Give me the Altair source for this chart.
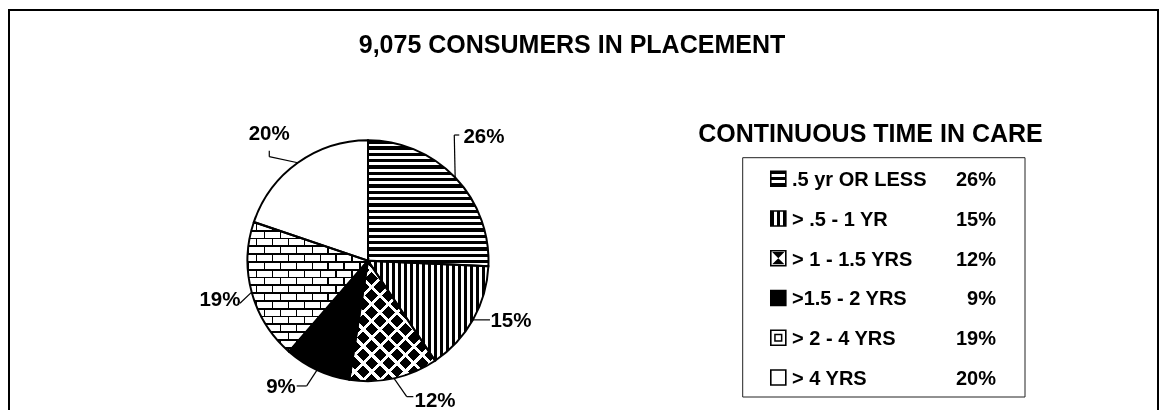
import math
import numpy as np
import pandas as pd
import altair as alt

# ---------------- data ----------------
TITLE = "9,075 CONSUMERS IN PLACEMENT"
LEGEND_TITLE = "CONTINUOUS TIME IN CARE"
categories = [".5 yr OR LESS", "> .5 - 1 YR", "> 1 - 1.5 YRS", ">1.5 - 2 YRS", "> 2 - 4 YRS", "> 4 YRS"]
percent = [26, 15, 12, 9, 19, 20]
pct_labels = ["26%", "15%", "12%", "9%", "19%", "20%"]

# ---------------- layout / style (chart pixels) ----------------
FONT = "Liberation Sans, Arial, sans-serif"
W, H = 1151, 402
CX, CY, R = 360.0, 252.7, 120.5

# leader elbows (relative to the slice's mid-angle point on the rim) and label anchor offsets
LEADER = [[(-0.9, -42.5), (4.1, -42.5)], [(17, 0)], [(12.7, 18.3), (19.3, 18.3)],
          [(-10.5, 16), (-20.5, 16)], [(-11.7, 11.1)], [(-28.5, -6.1), (-28.5, -12.1)]]
LABEL_OFF = [(28.8, -34.2), (38, 7.4), (41, 28.3), (-36.2, 23.3), (-31.7, 13.8), (-28.6, -22.8)]

total = float(sum(percent))
end = np.cumsum(percent).astype(float)
start = end - np.array(percent, dtype=float)
a0 = start / total * 360.0
a1 = end / total * 360.0
mid = (a0 + a1) / 2.0

pie_df = pd.DataFrame({"idx": range(len(categories)), "cat": categories, "value": percent,
                       "start": start, "end": end, "label": pct_labels})


def slice_bbox(s, e, r):
    pts = [(0.0, 0.0)]
    for a in [s, e] + [k * 90.0 for k in range(5) if s < k * 90.0 < e]:
        t = math.radians(a)
        pts.append((r * math.sin(t), -r * math.cos(t)))
    xs = [p[0] for p in pts]
    ys = [p[1] for p in pts]
    return max(xs) - min(xs), max(ys) - min(ys)


def band_stops(L, period, on, on_col, off_col, phase=0.0):
    stops = []
    x = (phase % period) - period
    while x < L:
        for s0, s1, col in ((x, x + on, on_col), (x + on, x + period, off_col)):
            a, b = max(0.0, s0), min(L, s1)
            if b > a:
                stops.append({"offset": round(a / L, 5), "color": col})
                stops.append({"offset": round(b / L, 5), "color": col})
        x += period
    return stops


def grad(kind, w, h, period, on, on_col, off_col, phase=0.0):
    if kind == "h":
        x1, y1, x2, y2, L = 0, 0, 0, 1, h
    elif kind == "v":
        x1, y1, x2, y2, L = 0, 0, 1, 0, w
    elif kind == "d1":
        c = (w + h) / (w * w + h * h)
        x1, y1, x2, y2, L = 0, 0, c * w, c * h, (w + h) / math.sqrt(2)
    else:
        c = (w + h) / (w * w + h * h)
        x1, y1, x2, y2, L = 0, 1, c * w, 1 - c * h, (w + h) / math.sqrt(2)
    return {"gradient": "linear", "x1": x1, "y1": y1, "x2": x2, "y2": y2,
            "stops": band_stops(L, period, on, on_col, off_col, phase)}


theta = alt.Theta("start:Q", stack=None, scale=alt.Scale(domain=[0, total], range=[0, 2 * math.pi]))
base = alt.Chart(pie_df)


def arc(i, fill, blend=None):
    kw = dict(radius=R, fill=fill, strokeWidth=0)
    if blend:
        kw["blend"] = blend
    return base.transform_filter(alt.datum.idx == i).mark_arc(**kw).encode(
        theta=theta, theta2="end:Q", x=alt.value(CX), y=alt.value(CY))


layers = []
# 0: horizontal lines
w, h = slice_bbox(a0[0], a1[0], R)
layers.append(arc(0, grad("h", w, h, 6.3, 3.3, "black", "white")))
# 1: vertical lines
w, h = slice_bbox(a0[1], a1[1], R)
layers.append(arc(1, grad("v", w, h, 6.0, 3.0, "black", "white")))
# 2: diamonds (intersection of two diagonal stripe sets)
w, h = slice_bbox(a0[2], a1[2], R)
P = 12.0
layers.append(arc(2, grad("d1", w, h, P, 0.72 * P, "black", "white")))
layers.append(arc(2, grad("d2", w, h, P, 0.72 * P, "black", "white"), blend="lighten"))
# 3: solid black
layers.append(arc(3, "black"))
# 4: bricks
w, h = slice_bbox(a0[4], a1[4], R)
RH, BL, MT = 7.8, 16.0, 1.8
layers.append(arc(4, grad("v", w, h, BL, BL / 2, "black", "white", phase=MT / 2 - BL / 4)))
layers.append(arc(4, grad("h", w, h, 2 * RH, RH, "white", "black"), blend="difference"))
layers.append(arc(4, grad("v", w, h, BL / 2, MT, "black", "white"), blend="lighten"))
layers.append(arc(4, grad("h", w, h, RH, MT, "black", "white"), blend="multiply"))
# 5: white
layers.append(arc(5, "white"))
# outlines
layers.append(base.mark_arc(radius=R, fill="transparent", stroke="black", strokeWidth=2).encode(
    theta=theta, theta2="end:Q", x=alt.value(CX), y=alt.value(CY)))

# leader lines and percentage labels
seg_rows, lab_rows = [], []
for i in range(len(categories)):
    t = math.radians(mid[i])
    ex, ey = CX + R * math.sin(t), CY - R * math.cos(t)
    pts = [(ex, ey)] + [(ex + dx, ey + dy) for dx, dy in LEADER[i]]
    for (xa, ya), (xb, yb) in zip(pts[:-1], pts[1:]):
        seg_rows.append({"x": xa, "y": ya, "x2": xb, "y2": yb})
    lab_rows.append({"lx": ex + LABEL_OFF[i][0], "ly": ey + LABEL_OFF[i][1], "label": pct_labels[i]})
seg_df = pd.DataFrame(seg_rows)
lab_df = pd.DataFrame(lab_rows)

layers.append(alt.Chart(seg_df).mark_rule(color="black", strokeWidth=1.2).encode(
    x=alt.X("x:Q", scale=None), y=alt.Y("y:Q", scale=None), x2="x2:Q", y2="y2:Q"))
layers.append(alt.Chart(lab_df).mark_text(font=FONT, fontSize=20.5, fontWeight="bold", align="center",
                                          baseline="alphabetic", color="black").encode(
    x=alt.X("lx:Q", scale=None), y=alt.Y("ly:Q", scale=None), text="label:N"))

# titles, frame, legend box
one = pd.DataFrame({"t": [TITLE], "lt": [LEGEND_TITLE]})
layers.append(alt.Chart(one).mark_rect(fill="transparent", stroke="black", strokeWidth=2).encode(
    x=alt.value(1), x2=alt.value(1150), y=alt.value(2), y2=alt.value(430)))
layers.append(alt.Chart(one).mark_text(font=FONT, fontSize=25, fontWeight="bold", baseline="alphabetic",
                                       align="center").encode(x=alt.value(564), y=alt.value(45), text="t:N"))
layers.append(alt.Chart(one).mark_text(font=FONT, fontSize=25, fontWeight="bold", baseline="alphabetic",
                                       align="center").encode(x=alt.value(862.5), y=alt.value(134), text="lt:N"))
layers.append(alt.Chart(one).mark_rect(fill="transparent", stroke="#222", strokeWidth=1).encode(
    x=alt.value(734.7), x2=alt.value(1017), y=alt.value(149.7), y2=alt.value(389)))

leg_y = alt.Y("cat:N", sort=categories, axis=None,
              scale=alt.Scale(domain=categories, range=[178.2, 377], padding=0))
leg = alt.Chart(pie_df)
layers.append(leg.mark_text(font=FONT, fontSize=20, fontWeight="bold", align="left",
                            baseline="alphabetic").encode(x=alt.value(784), y=leg_y, text="cat:N"))
layers.append(leg.mark_text(font=FONT, fontSize=20, fontWeight="bold", align="right",
                            baseline="alphabetic").encode(x=alt.value(988), y=leg_y, text="label:N"))

ICON_X, ICON_SIZE = 770.3, 225
icon_fills = [
    grad("h", 15, 15, 6, 3, "black", "white"),
    grad("v", 15, 15, 6, 3, "black", "white"),
    "white", "black", "white", "white",
]
for i, f in enumerate(icon_fills):
    layers.append(leg.transform_filter(alt.datum.idx == i).mark_point(
        shape="square", size=ICON_SIZE, filled=True, fill=f, stroke="black", strokeWidth=1.6,
        opacity=1, yOffset=-7.5).encode(x=alt.value(ICON_X), y=leg_y))
layers.append(leg.transform_filter(alt.datum.idx == 2).mark_point(
    shape="M-1,-1L1,-1L0,0L1,1L-1,1L0,0Z", size=150, filled=True, fill="black", strokeWidth=0,
    opacity=1, yOffset=-7.5).encode(x=alt.value(ICON_X), y=leg_y))
layers.append(leg.transform_filter(alt.datum.idx == 4).mark_point(
    shape="square", size=45, filled=True, fill="white", stroke="black", strokeWidth=1.5,
    opacity=1, yOffset=-7.5).encode(x=alt.value(ICON_X), y=leg_y))

chart = alt.layer(*layers).resolve_scale(x="independent", y="independent").properties(
    width=W, height=H, padding=0, autosize="none", background="white"
).configure_view(stroke=None)

chart.save("out.html", embed_options={"renderer": "svg", "actions": False})
